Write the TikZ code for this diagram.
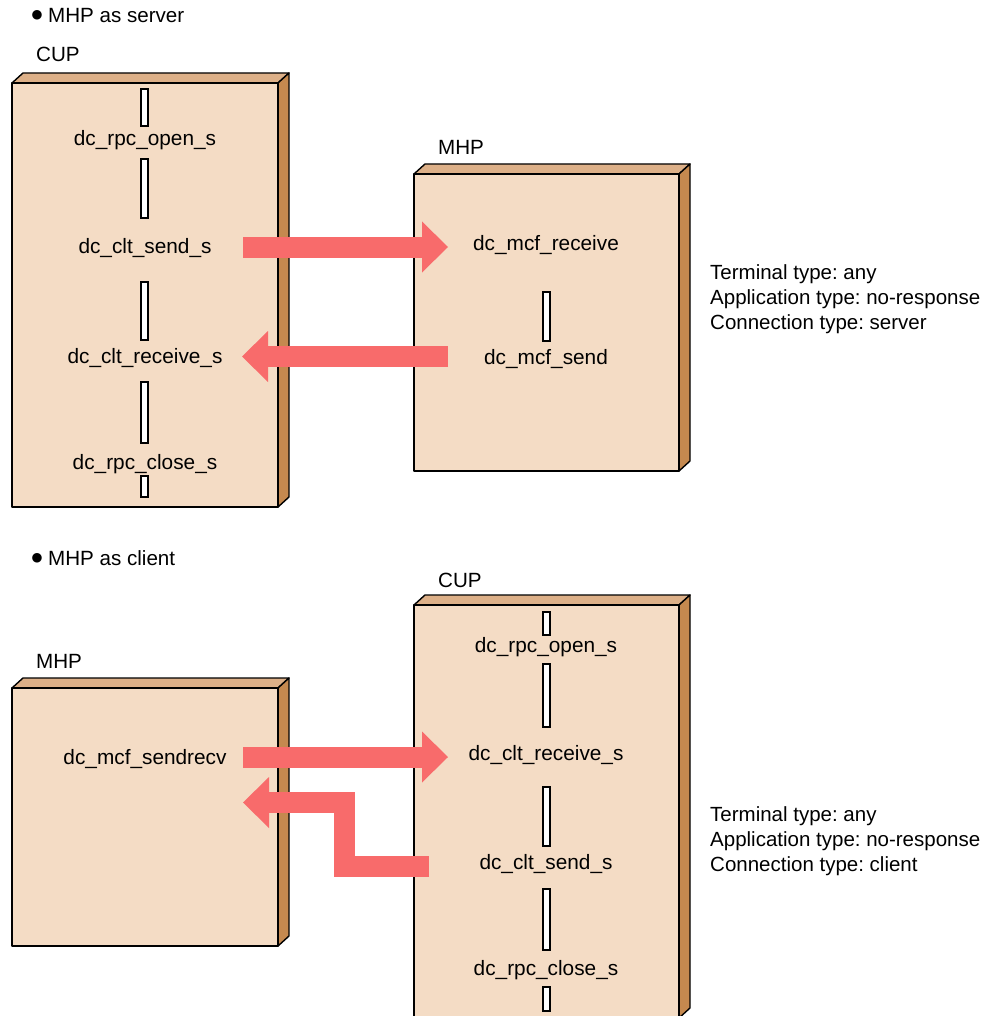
\documentclass[tikz,border=0pt]{standalone}
\usepackage{fontspec}
\setmainfont{Liberation Sans}
\newfontfamily\glyphfont{DejaVu Sans}
\usetikzlibrary{arrows.meta}
\frenchspacing

\definecolor{faceFront}{HTML}{F4DCC5}
\definecolor{faceTop}{HTML}{DDB088}
\definecolor{faceSide}{HTML}{C5894F}
\definecolor{flow}{HTML}{F86B6B}

% A block with a bevelled top and right side: front face (x1,y1)-(x2,y2)
\newcommand{\crateblock}[4]{%
  \fill[faceFront] (#1,#2) rectangle (#3,#4);
  \filldraw[faceTop, draw=black, line width=1.4pt, line join=round]
    (#1,#2) -- (#1+11,#2-10) -- (#3+11,#2-10) -- (#3,#2) -- cycle;
  \filldraw[faceSide, draw=black, line width=1.4pt, line join=round]
    (#3,#2) -- (#3+11,#2-10) -- (#3+11,#4-10) -- (#3,#4) -- cycle;
  \draw[black, line width=1.8pt, line join=round] (#1,#2) rectangle (#3,#4);
}
\newcommand{\headbullet}{\raisebox{4pt}{\glyphfont\fontsize{12.5}{13}\selectfont ●}\hspace{5.5pt}}

\tikzset{
  lbl/.style={font=\fontsize{20.8}{25}\selectfont, inner sep=0pt, anchor=base},
  lblw/.style={font=\fontsize{20.6}{25}\selectfont, inner sep=0pt, anchor=base west},
  info/.style={font=\fontsize{20.5}{25.2}\selectfont, inner sep=0pt, anchor=north west,
               align=left},
  bar/.style={draw=black, fill=white, line width=1.2pt},
  flowarrow/.style={draw=flow, line width=21pt, line join=miter,
    -{Triangle[width=51pt,length=26pt,line width=0pt]}},
}

\begin{document}
\begin{tikzpicture}[x=1pt, y=-1pt]
\useasboundingbox (0,0) rectangle (992,1016);

% ---------------- MHP as server ----------------
\node[lblw] (hdrA) at (31.5,23) {\headbullet MHP as server};

\node[lblw] (cupAlbl) at (36,62) {CUP};
\crateblock{12}{83}{278}{507}
\draw[bar] (141,89) rectangle (148,126);
\node[lbl] (aOpen) at (145,146) {dc\_rpc\_open\_s};
\draw[bar] (141,159) rectangle (148,218);
\node[lbl] (aSend) at (145,254) {dc\_clt\_send\_s};
\draw[bar] (141,282) rectangle (148,340);
\node[lbl] (aRecv) at (145,363) {dc\_clt\_receive\_s};
\draw[bar] (141,382) rectangle (148,443);
\node[lbl] (aClose) at (145,469) {dc\_rpc\_close\_s};
\draw[bar] (141,476) rectangle (148,497);

\node[lblw] (mhpAlbl) at (438,155) {MHP};
\crateblock{414}{174}{679}{471}
\node[lbl] (mRecv) at (546,250) {dc\_mcf\_receive};
\draw[bar] (543,292) rectangle (550,341);
\node[lbl] (mSend) at (546,364) {dc\_mcf\_send};

\node[info] (infoA) at (710,264) {Terminal type: any\\Application type: no-response\\Connection type: server};

\coordinate (a1s) at (243,247);
\coordinate (a1e) at (448,247);
\coordinate (a2s) at (448,356.5);
\coordinate (a2e) at (242,356.5);
\draw[flowarrow] (a1s) -- (a1e);
\draw[flowarrow] (a2s) -- (a2e);

% ---------------- MHP as client ----------------
\node[lblw] (hdrB) at (31.5,565) {\headbullet MHP as client};

\node[lblw] (mhpBlbl) at (36,668) {MHP};
\crateblock{12}{688}{278}{946}
\node[lbl] (bSendRecv) at (145,764) {dc\_mcf\_sendrecv};

\node[lblw] (cupBlbl) at (438,587) {CUP};
\crateblock{414}{605}{679}{1018}
\draw[bar] (543,612) rectangle (550,635);
\node[lbl] (cOpen) at (546,652) {dc\_rpc\_open\_s};
\draw[bar] (543,664) rectangle (550,727);
\node[lbl] (cRecv) at (546,760) {dc\_clt\_receive\_s};
\draw[bar] (543,787) rectangle (550,846);
\node[lbl] (cSend) at (546,869) {dc\_clt\_send\_s};
\draw[bar] (543,889) rectangle (550,950);
\node[lbl] (cClose) at (546,975) {dc\_rpc\_close\_s};
\draw[bar] (543,987) rectangle (550,1011);

\node[info] (infoB) at (710,806) {Terminal type: any\\Application type: no-response\\Connection type: client};

\coordinate (b1s) at (243,757);
\coordinate (b1e) at (448,757);
\coordinate (b2s) at (429,866);
\coordinate (b2k1) at (344,866);
\coordinate (b2k2) at (344,802.5);
\coordinate (b2e) at (243,802.5);
\draw[flowarrow] (b1s) -- (b1e);
\draw[flowarrow] (b2s) -- (b2k1) -- (b2k2) -- (b2e);
\end{tikzpicture}
\end{document}
